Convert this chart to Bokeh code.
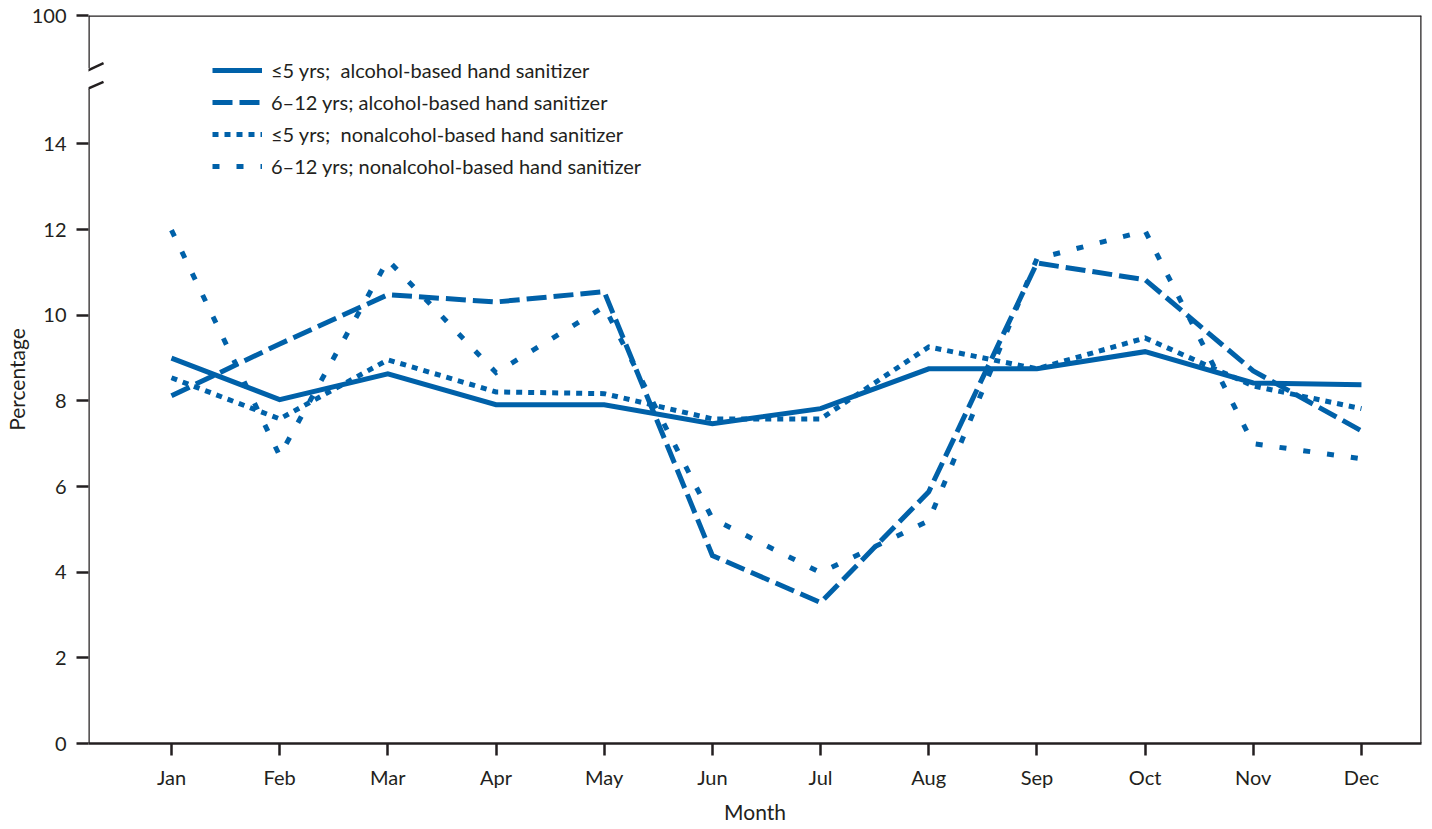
from bokeh.plotting import figure
from bokeh.models import Range1d, FixedTicker, Arrow, Legend, LegendItem, Title
from bokeh.embed import file_html
from bokeh.resources import INLINE

months = ["Jan", "Feb", "Mar", "Apr", "May", "Jun", "Jul", "Aug", "Sep", "Oct", "Nov", "Dec"]
month_idx = list(range(len(months)))

le5_alcohol = [9.00, 8.03, 8.63, 7.91, 7.91, 7.47, 7.82, 8.75, 8.75, 9.15, 8.42, 8.38]
y6_12_alcohol = [8.12, 9.33, 10.48, 10.31, 10.55, 4.39, 3.29, 5.88, 11.22, 10.83, 8.70, 7.30]
le5_nonalcohol = [8.54, 7.58, 8.96, 8.21, 8.17, 7.58, 7.58, 9.26, 8.75, 9.47, 8.35, 7.82]
y6_12_nonalcohol = [11.99, 6.72, 11.29, 8.66, 10.20, 5.25, 3.99, 5.20, 11.32, 11.97, 7.00, 6.65]

series_labels = [
    "\u22645 yrs;  alcohol-based hand sanitizer",
    "6\u201312 yrs; alcohol-based hand sanitizer",
    "\u22645 yrs;  nonalcohol-based hand sanitizer",
    "6\u201312 yrs; nonalcohol-based hand sanitizer",
]

y_ticks = [0, 2, 4, 6, 8, 10, 12, 14, 17]
y_tick_labels = ["0", "2", "4", "6", "8", "10", "12", "14", "100"]
x_title = "Month"
y_title = "Percentage"

BLUE = "#0061a9"
INK = "#231f20"
FONT = "Lato"

x_start, x_end = -0.767, 11.555
y_top = 17
p = figure(frame_width=1333, frame_height=728,
           x_range=Range1d(x_start, x_end), y_range=Range1d(0, y_top),
           output_backend="svg", toolbar_location=None,
           min_border_left=81, min_border_right=2, min_border_top=15, min_border_bottom=60)
p.title.visible = False
p.xgrid.visible = False
p.ygrid.visible = False
p.outline_line_color = None

xa = p.xaxis[0]
xa.ticker = FixedTicker(ticks=month_idx)
xa.major_label_overrides = {i: m for i, m in enumerate(months)}
ya = p.yaxis[0]
ya.ticker = FixedTicker(ticks=y_ticks)
ya.major_label_overrides = {t: l for t, l in zip(y_ticks, y_tick_labels)}
for ax in (xa, ya):
    ax.major_tick_out = 12
    ax.major_tick_in = 0
    ax.minor_tick_out = 0
    ax.minor_tick_in = 0
    ax.major_tick_line_width = 2.5
    ax.major_tick_line_color = INK
    ax.major_label_text_font = FONT
    ax.major_label_text_font_size = "20px"
    ax.major_label_text_color = INK
    ax.axis_label_text_font = FONT
    ax.axis_label_text_font_size = "21px"
    ax.axis_label_text_font_style = "normal"
    ax.axis_label_text_color = INK
xa.axis_line_width = 2.5
xa.axis_line_color = INK
xa.major_label_standoff = 9
ya.axis_line_color = None
ya.major_label_standoff = 10
ya.axis_label = y_title
ya.axis_label_standoff = 0

# x-axis title as a below-panel title
p.add_layout(Title(text=x_title, align="center", text_font=FONT, text_font_size="21px",
                   text_font_style="normal", text_color=INK, standoff=10, offset=0), "below")

# frame lines: top, right
p.add_layout(Arrow(end=None, start=None, x_start=x_start, y_start=y_top, x_end=x_end, y_end=y_top,
                   line_color=INK, line_width=2.5))
p.add_layout(Arrow(end=None, start=None, x_start=x_end, y_start=0, x_end=x_end, y_end=y_top,
                   line_color=INK, line_width=2.5))
# broken left axis line
for y0, y1 in ((0, 15.28), (15.77, y_top)):
    p.add_layout(Arrow(end=None, start=None, x_start=x_start, y_start=y0, x_end=x_start, y_end=y1,
                       line_color=INK, line_width=2.5))
for y0, y1 in ((15.54, 15.89), (15.12, 15.45)):
    p.add_layout(Arrow(end=None, start=None, x_start=x_start - 0.157, y_start=y0,
                       x_end=x_start + 0.139, y_end=y1, line_color=INK, line_width=2.5))

dashes = ["solid", "20 7", "6 6", "7 17"]
data = [le5_alcohol, y6_12_alcohol, le5_nonalcohol, y6_12_nonalcohol]
items = []
for lab, ys, d in zip(series_labels, data, dashes):
    r = p.line(month_idx, ys, line_color=BLUE, line_width=5, line_dash=d,
               line_cap="butt", line_join="miter")
    items.append(LegendItem(label=lab, renderers=[r]))

legend = Legend(items=items, location=(124, 565), orientation="vertical",
                glyph_width=50, glyph_height=22, label_height=22, spacing=8,
                padding=0, margin=0, label_standoff=9,
                label_text_font=FONT, label_text_font_size="20px", label_text_color=INK,
                border_line_color=None, background_fill_alpha=0)
p.add_layout(legend, "center")

open("out.html", "w").write(file_html(p, INLINE))
